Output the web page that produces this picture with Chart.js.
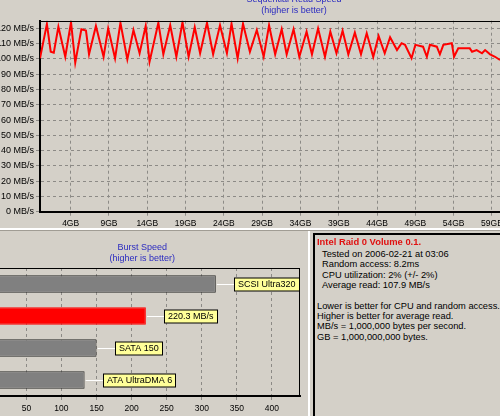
<!DOCTYPE html>
<html>
<head>
<meta charset="utf-8">
<script src="https://cdn.jsdelivr.net/npm/chart.js@4.4.1/dist/chart.umd.min.js"></script>
<style>
  html, body { margin: 0; padding: 0; }
  body {
    width: 500px; height: 416px; overflow: hidden; position: relative;
    background: #d4d0c8; font-family: "Liberation Sans", Arial, sans-serif;
  }
  canvas { position: absolute; }
  #seqChart { left: -40px; top: -20px; }
  #burstChart { left: -30px; top: 232px; }
  .rule { position: absolute; }
  .txt { position: absolute; white-space: nowrap; font-size: 9.3px; line-height: 11px; color: #000; }
  .txt.head { color: #e01010; font-weight: bold; font-size: 9.4px; }
</style>
</head>
<body>
<canvas id="seqChart" width="668" height="250"></canvas>
<canvas id="burstChart" width="336" height="184"></canvas>

<!-- window splitters and the info panel frame -->
<div class="rule" style="left:0;top:228px;width:500px;height:2px;background:#fff"></div>
<div class="rule" style="left:0;top:230px;width:500px;height:1px;background:#a09c94"></div>
<div class="rule" style="left:308px;top:231px;width:2px;height:185px;background:#fff"></div>
<div class="rule" style="left:313px;top:233px;width:187px;height:2px;background:#000"></div>
<div class="rule" style="left:313px;top:233px;width:2px;height:183px;background:#000"></div>

<div class="txt head" style="left:317px;top:235.5px">Intel Raid 0 Volume 0.1.</div>
<div class="txt" style="left:322px;top:248.5px">Tested on 2006-02-21 at 03:06</div>
<div class="txt" style="left:322px;top:259px">Random access: 8.2ms</div>
<div class="txt" style="left:322px;top:269.5px">CPU utilization: 2% (+/- 2%)</div>
<div class="txt" style="left:322px;top:280px">Average read: 107.9 MB/s</div>
<div class="txt" style="left:317px;top:301px">Lower is better for CPU and random access.</div>
<div class="txt" style="left:317px;top:311px">Higher is better for average read.</div>
<div class="txt" style="left:317px;top:321px">MB/s = 1,000,000 bytes per second.</div>
<div class="txt" style="left:317px;top:331.5px">GB = 1,000,000,000 bytes.</div>

<script>
// sequential read trace (position on the drive in GB, speed in MB/s)
const seqPosGB = [0, 0.9, 1.4, 1.8, 2.4, 3.3, 4.05, 4.6, 5.4, 6.0, 6.4, 7.3, 8.3, 8.9, 9.8,
  10.5, 11.4, 12.2, 13.0, 13.8, 14.3, 15.45, 16.1, 17.0, 17.8, 18.6, 19.4, 20.2, 20.9, 21.8,
  22.6, 23.5, 24.4, 25.0, 25.8, 26.5, 27.4, 28.3, 29.2, 29.9, 30.7, 31.55, 32.2, 33.1, 33.85,
  34.8, 35.5, 36.3, 37.2, 37.9, 38.7, 39.5, 40.25, 41.1, 41.9, 42.65, 43.5, 44.2, 45.0, 45.7,
  46.6, 47.2, 47.65, 48.5, 49.0, 50.0, 50.5, 50.9, 51.8, 52.2, 52.65, 53.75, 54.05, 54.6,
  56.1, 56.4, 57.0, 57.7, 58.1, 58.75, 59.4, 60.05];
const seqReadMBs = [100.4, 122.8, 104.7, 104.0, 121.0, 101.4, 124.0, 97.5, 119.4, 118.5, 103.0,
  121.6, 101.4, 120.0, 100.4, 123.6, 99.7, 118.9, 103.7, 121.6, 98.2, 123.6, 103.0, 122.0,
  101.4, 124.0, 101.4, 120.7, 103.7, 123.6, 103.0, 122.0, 103.7, 123.0, 100.4, 123.0, 104.7,
  118.9, 101.4, 122.0, 103.0, 119.4, 103.0, 119.4, 101.4, 117.8, 103.0, 119.9, 101.4, 117.8,
  103.7, 118.4, 103.0, 117.2, 103.0, 116.8, 101.4, 115.0, 103.7, 114.2, 105.8, 110.3, 109.2,
  100.4, 109.2, 108.0, 101.4, 109.2, 108.0, 103.0, 109.2, 110.3, 101.4, 106.9, 106.9, 104.7,
  105.8, 103.7, 105.8, 103.0, 101.4, 99.3];
const seqTicksGB = [4, 9, 14, 19, 24, 29, 34, 39, 44, 49, 54, 59];
const seqTicksMBs = [0, 10, 20, 30, 40, 50, 60, 70, 80, 90, 100, 110, 120];

// burst speed bars
const burstNames = ["SCSI Ultra320", "Intel Raid 0 Volume 0.1.", "SATA 150", "ATA UltraDMA 6"];
const burstMBs = [320, 220.3, 150, 133];
const burstTags = ["SCSI Ultra320", "220.3 MB/s", "SATA 150", "ATA UltraDMA 6"];
const burstTicks = [50, 100, 150, 200, 250, 300, 350, 400];

const FONT = '"Liberation Sans", Arial, sans-serif';
const GRID = "#8c8a86";
const TITLE_BLUE = "#2b2bc0";

// black frame lines on the plot area (top, and optionally right)
const frame = {
  id: "frame",
  afterDraw(chart, args, opts) {
    const { ctx, chartArea: a } = chart;
    ctx.save();
    ctx.strokeStyle = "#000";
    ctx.lineWidth = 1;
    ctx.beginPath();
    ctx.moveTo(a.left, Math.round(a.top) + 0.5);
    ctx.lineTo(a.right, Math.round(a.top) + 0.5);
    if (opts.right) {
      ctx.moveTo(Math.round(a.right) - 0.5, a.top);
      ctx.lineTo(Math.round(a.right) - 0.5, a.bottom);
    }
    ctx.stroke();
    ctx.restore();
  }
};

// yellow name tags with a white leader line after each bar
const barTags = {
  id: "barTags",
  afterDatasetsDraw(chart) {
    const { ctx } = chart;
    const meta = chart.getDatasetMeta(0);
    ctx.save();
    ctx.font = "9px " + FONT;
    ctx.textBaseline = "middle";
    ctx.lineWidth = 1;
    meta.data.forEach((bar, i) => {
      const text = burstTags[i];
      const y = Math.round(bar.y) + 0.5;
      const bx = Math.round(bar.x + 18) + 0.5;
      const w = Math.round(ctx.measureText(text).width + 7);
      ctx.strokeStyle = "#fff";
      ctx.beginPath();
      ctx.moveTo(bar.x + 1, y);
      ctx.lineTo(bx, y);
      ctx.stroke();
      ctx.fillStyle = "#ffff99";
      ctx.fillRect(bx, y - 6.5, w, 13);
      ctx.strokeStyle = "#000";
      ctx.strokeRect(bx, y - 6.5, w, 13);
      ctx.fillStyle = "#000";
      ctx.fillText(text, bx + 3.5, y + 0.5);
    });
    ctx.restore();
  }
};

new Chart(document.getElementById("seqChart"), {
  type: "line",
  data: {
    datasets: [{
      data: seqPosGB.map((x, i) => ({ x: x, y: seqReadMBs[i] })),
      borderColor: "#ff0000",
      borderWidth: 2,
      pointRadius: 0,
      tension: 0,
      fill: false
    }]
  },
  options: {
    responsive: false,
    animation: false,
    layout: { padding: 0 },
    plugins: {
      legend: { display: false },
      tooltip: { enabled: false },
      title: {
        display: true,
        text: ["Sequential Read Speed", "(higher is better)"],
        color: TITLE_BLUE,
        font: { family: FONT, size: 9, weight: "normal", lineHeight: 11 / 9 },
        padding: { top: 14.2, bottom: 4.5 }
      },
      frame: { right: false }
    },
    scales: {
      x: {
        type: "linear", min: 0, max: 61,
        afterBuildTicks: (s) => { s.ticks = seqTicksGB.map((v) => ({ value: v })); },
        afterFit: (s) => { s.height = 18.3; },
        ticks: { callback: (v) => v + "GB", color: "#000", font: { family: FONT, size: 8.5 },
                 padding: 2.5, maxRotation: 0, autoSkip: false },
        grid: { color: GRID, tickLength: 4 },
        border: { color: "#000", width: 2, dash: [3, 3] }
      },
      y: {
        min: 0, max: 125,
        afterBuildTicks: (s) => { s.ticks = seqTicksMBs.map((v) => ({ value: v })); },
        afterFit: (s) => { s.width = 80; },
        ticks: { callback: (v) => v + " MB/s", color: "#000", font: { family: FONT, size: 9 }, padding: 2 },
        grid: { color: GRID, tickLength: 4 },
        border: { color: "#000", width: 2, dash: [3, 3] }
      },
      // empty strip to the right: the window continues past the crop
      pad: {
        axis: "y", position: "right", display: true,
        afterFit: (s) => { s.width = 120.7; },
        ticks: { display: false }, grid: { display: false }, border: { display: false }
      }
    }
  },
  plugins: [frame]
});

new Chart(document.getElementById("burstChart"), {
  type: "bar",
  data: {
    labels: burstNames,
    datasets: [{
      data: burstMBs,
      backgroundColor: ["#808080", "#ff0000", "#808080", "#808080"],
      borderColor: ["#2a2a2a", "#ff0000", "#2a2a2a", "#2a2a2a"],
      borderWidth: 1,
      barPercentage: 0.55,
      categoryPercentage: 1
    }]
  },
  options: {
    indexAxis: "y",
    responsive: false,
    animation: false,
    layout: { padding: { left: 14.3, right: 6, top: 0, bottom: 0 } },
    plugins: {
      legend: { display: false },
      tooltip: { enabled: false },
      title: {
        display: true,
        text: ["Burst Speed", "(higher is better)"],
        color: TITLE_BLUE,
        font: { family: FONT, size: 9, weight: "normal", lineHeight: 11 / 9 },
        padding: { top: 9.8, bottom: 4.2 }
      },
      frame: { right: true }
    },
    scales: {
      x: {
        min: 0, max: 440,
        afterBuildTicks: (s) => { s.ticks = burstTicks.map((v) => ({ value: v })); },
        afterFit: (s) => { s.height = 20; },
        ticks: { color: "#000", font: { family: FONT, size: 8.5 }, padding: 4, maxRotation: 0, autoSkip: false },
        grid: { color: GRID, tickLength: 4 },
        border: { color: "#000", width: 2, dash: [3, 3] }
      },
      y: {
        afterFit: (s) => { s.width = 7; },
        ticks: { display: false },
        grid: { display: false },
        border: { display: false }
      }
    }
  },
  plugins: [frame, barTags]
});
</script>
</body>
</html>
